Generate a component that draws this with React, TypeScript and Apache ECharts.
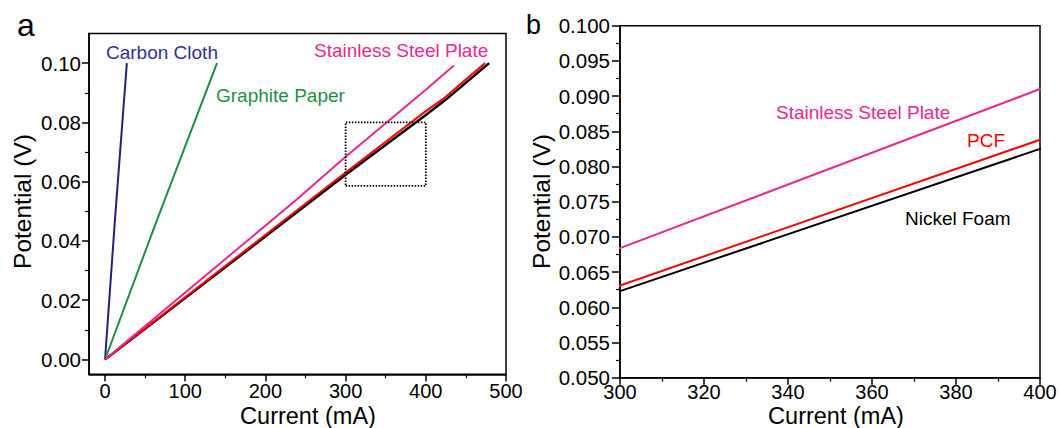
import React, { useEffect, useRef } from "react";
import * as echarts from "echarts";

// ---- data ----
const carbonCurrent = [0, 12.4, 27.2];
const carbonPotential = [0, 0.0473, 0.1];
const graphiteCurrent = [0, 65.1, 139.6];
const graphitePotential = [0, 0.0473, 0.1];
const steelCurrent = [0, 100, 239, 300, 400, 435];
const steelPotential = [0, 0.0226, 0.054, 0.0684, 0.091, 0.0992];
const pcfCurrent = [0, 300, 400, 423, 474];
const pcfPotential = [0, 0.0631, 0.0838, 0.0882, 0.1];
const nickelCurrent = [0, 300, 400, 425, 479];
const nickelPotential = [0, 0.0623, 0.0825, 0.0877, 0.1];
const zoomBoxCurrent = [300, 400, 400, 300, 300];
const zoomBoxPotential = [0.0586, 0.0586, 0.08, 0.08, 0.0586];

const xTicksA = [0, 100, 200, 300, 400, 500];
const xMinorA = [50, 150, 250, 350, 450];
const yTicksA = [0, 0.02, 0.04, 0.06, 0.08, 0.1];
const yMinorA = [0.01, 0.03, 0.05, 0.07, 0.09];

const FONT = "'Liberation Sans', Arial, sans-serif";
const C_NAVY = "#1f1f85";
const C_NAVY_TXT = "#31319c";
const C_GREEN = "#1f8f3f";
const C_MAGENTA = "#ec268f";
const C_RED = "#ff0000";
const C_BLACK = "#000000";

const zip = (xs: number[], ys: number[]) => xs.map((x, i) => [x, ys[i]]);

export default function App() {
  const ref = useRef<HTMLDivElement>(null);
  useEffect(() => {
    if (!ref.current) return;
    const chart = echarts.init(ref.current, undefined, { renderer: "svg" });
    const tickLabel = { color: "#000", fontSize: 20.5, fontFamily: FONT };
    const xTickLabel = { color: "#000", fontSize: 20, fontFamily: FONT };
    const axisLine = { show: true, onZero: false, lineStyle: { color: "#000", width: 1.5 } };
    const noLine = { show: false, onZero: false };
    const line = (name: string, x: number[], y: number[], color: string, xi: number, yi: number, w = 2) => ({
      type: "line",
      name,
      xAxisIndex: xi,
      yAxisIndex: yi,
      data: zip(x, y),
      showSymbol: false,
      symbol: "none",
      clip: true,
      lineStyle: { color, width: w },
      itemStyle: { color },
      z: 3,
    });
    const txt = (text: string, x: number, y: number, size: number, color: string, extra: any = {}) => ({
      type: "text",
      x,
      y,
      style: {
        text,
        fill: color,
        fontSize: size,
        fontFamily: FONT,
        textAlign: "left",
        textVerticalAlign: "middle",
        ...extra,
      },
      z: 10,
    });
    chart.setOption({
      animation: false,
      backgroundColor: "#fff",
      grid: [
        { left: 89, top: 33.5, right: 555, bottom: 53.7, show: true, borderColor: "#000", borderWidth: 1.5, containLabel: false },
        { left: 620, top: 25.7, right: 21, bottom: 50.3, show: true, borderColor: "#000", borderWidth: 1.5, containLabel: false },
      ],
      xAxis: [
        {
          type: "value", gridIndex: 0, min: -20, max: 500,
          axisLine,
          splitLine: { show: false },
          axisTick: { show: true, inside: false, length: 7, customValues: xTicksA, lineStyle: { color: "#000", width: 1.5 } },
          axisLabel: { ...xTickLabel, margin: 7, customValues: xTicksA, formatter: (v: number) => String(v) },
        },
        {
          type: "value", gridIndex: 0, min: -20, max: 500, position: "bottom",
          axisLine: noLine,
          splitLine: { show: false },
          axisTick: { show: true, inside: false, length: 4, customValues: xMinorA, lineStyle: { color: "#000", width: 1.2 } },
          axisLabel: { show: false },
        },
        {
          type: "value", gridIndex: 1, min: 300, max: 400, interval: 20,
          axisLine,
          splitLine: { show: false },
          axisTick: { show: true, inside: false, length: 7, lineStyle: { color: "#000", width: 1.5 } },
          minorTick: { show: true, splitNumber: 2, length: 4, lineStyle: { color: "#000", width: 1.2 } },
          axisLabel: { ...xTickLabel, margin: 4, formatter: (v: number) => String(Math.round(v)) },
        },
      ],
      yAxis: [
        {
          type: "value", gridIndex: 0, min: -0.005, max: 0.11,
          axisLine,
          splitLine: { show: false },
          axisTick: { show: true, inside: false, length: 7, customValues: yTicksA, lineStyle: { color: "#000", width: 1.5 } },
          axisLabel: { ...tickLabel, margin: 8, customValues: yTicksA, formatter: (v: number) => v.toFixed(2) },
        },
        {
          type: "value", gridIndex: 0, min: -0.005, max: 0.11, position: "left",
          axisLine: noLine,
          splitLine: { show: false },
          axisTick: { show: true, inside: false, length: 4, customValues: yMinorA, lineStyle: { color: "#000", width: 1.2 } },
          axisLabel: { show: false },
        },
        {
          type: "value", gridIndex: 1, min: 0.05, max: 0.1, interval: 0.005,
          axisLine,
          splitLine: { show: false },
          axisTick: { show: true, inside: false, length: 8, lineStyle: { color: "#000", width: 1.5 } },
          minorTick: { show: true, splitNumber: 2, length: 4, lineStyle: { color: "#000", width: 1.2 } },
          axisLabel: { ...tickLabel, margin: 10, formatter: (v: number) => v.toFixed(3) },
        },
      ],
      series: [
        line("Carbon Cloth", carbonCurrent, carbonPotential, C_NAVY, 0, 0),
        line("Graphite Paper", graphiteCurrent, graphitePotential, C_GREEN, 0, 0),
        line("Nickel Foam", nickelCurrent, nickelPotential, C_BLACK, 0, 0, 2.5),
        line("PCF", pcfCurrent, pcfPotential, C_RED, 0, 0),
        line("Stainless Steel Plate", steelCurrent, steelPotential, C_MAGENTA, 0, 0),
        {
          type: "line",
          name: "zoom box",
          xAxisIndex: 0,
          yAxisIndex: 0,
          data: zip(zoomBoxCurrent, zoomBoxPotential),
          showSymbol: false,
          symbol: "none",
          lineStyle: { color: "#000", width: 1.8, type: [1.5, 1.5] },
          z: 4,
        },
        line("Nickel Foam b", nickelCurrent, nickelPotential, C_BLACK, 2, 2, 2),
        line("PCF b", pcfCurrent, pcfPotential, C_RED, 2, 2, 2),
        line("Stainless Steel Plate b", steelCurrent, steelPotential, C_MAGENTA, 2, 2, 2),
      ],
      graphic: [
        txt("a", 17, 25, 32, "#000"),
        txt("b", 526, 25, 27, "#000"),
        txt("Carbon Cloth", 106, 52, 19, C_NAVY_TXT),
        txt("Graphite Paper", 216, 95.5, 19, C_GREEN),
        txt("Stainless Steel Plate", 314, 50.3, 19, C_MAGENTA),
        txt("Stainless Steel Plate", 776, 112.6, 19, C_MAGENTA),
        txt("PCF", 967, 140.3, 19, C_RED),
        txt("Nickel Foam", 905, 218.6, 19, C_BLACK),
        txt("Current (mA)", 308, 416, 23.5, "#000", { textAlign: "center" }),
        txt("Current (mA)", 836, 416, 23.5, "#000", { textAlign: "center" }),
        { ...txt("Potential (V)", 0, 0, 24.5, "#000", { textAlign: "center" }), x: 22, y: 201.5, rotation: Math.PI / 2 },
        { ...txt("Potential (V)", 0, 0, 24.5, "#000", { textAlign: "center" }), x: 541, y: 201.5, rotation: Math.PI / 2 },
      ],
    });
    return () => chart.dispose();
  }, []);
  return <div ref={ref} style={{ position: "absolute", left: 0, top: 0, width: 1061, height: 428 }} />;
}
